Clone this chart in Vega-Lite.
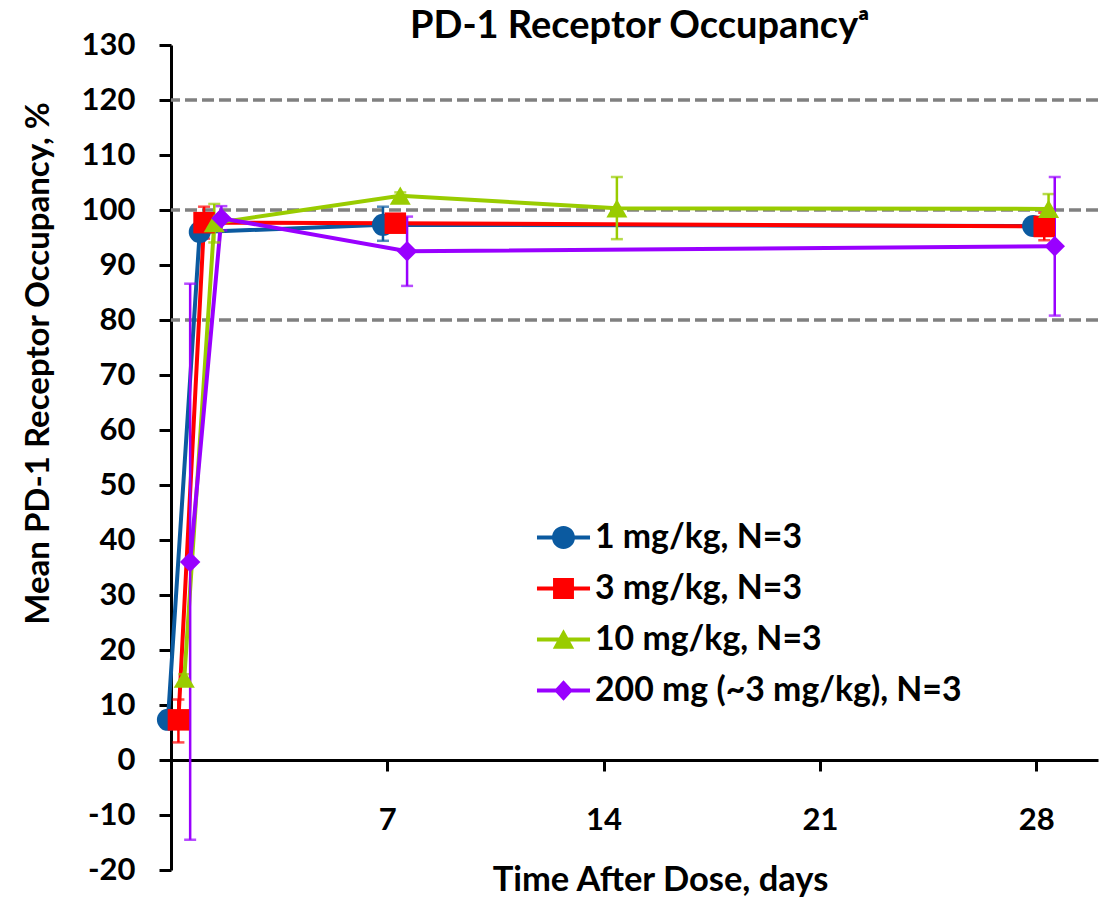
{
  "$schema": "https://vega.github.io/schema/vega-lite/v6.json",
  "width": 927,
  "height": 825,
  "autosize": "none",
  "padding": {"left": 171, "top": 45, "right": 1, "bottom": 27},
  "background": "white",
  "title": {"text": "PD-1 Receptor Occupancyᵃ", "font": "Lato", "fontSize": 38, "fontWeight": "bold", "color": "black", "anchor": "middle", "baseline": "alphabetic", "offset": 0, "dy": 47, "dx": 5},
  "config": {
    "view": {"stroke": null},
    "axis": {"domainColor": "black", "domainWidth": 3, "tickColor": "black", "tickWidth": 3, "labelFont": "Lato", "labelFontWeight": "bold", "labelFontSize": 31, "labelColor": "black", "titleFont": "Lato", "titleFontWeight": "bold", "titleFontSize": 31, "titleColor": "black", "grid": false}
  },
  "datasets": {
    "ro": [
      {"series": "1 mg/kg, N=3", "day": -0.1, "value": 7.3, "lo": 5.8, "hi": 8.8},
      {"series": "1 mg/kg, N=3", "day": 0.93, "value": 96.0, "lo": 94.5, "hi": 97.5},
      {"series": "1 mg/kg, N=3", "day": 6.86, "value": 97.3, "lo": 94.4, "hi": 100.6},
      {"series": "1 mg/kg, N=3", "day": 27.9, "value": 97.1, "lo": 96.0, "hi": 98.2},
      {"series": "3 mg/kg, N=3", "day": 0.24, "value": 7.3, "lo": 3.2, "hi": 11.0},
      {"series": "3 mg/kg, N=3", "day": 1.07, "value": 97.7, "lo": 94.8, "hi": 100.6},
      {"series": "3 mg/kg, N=3", "day": 7.26, "value": 97.6, "lo": 96.6, "hi": 98.6},
      {"series": "3 mg/kg, N=3", "day": 28.26, "value": 97.0, "lo": 94.5, "hi": 99.5},
      {"series": "10 mg/kg, N=3", "day": 0.43, "value": 14.8, "lo": 14.0, "hi": 15.6},
      {"series": "10 mg/kg, N=3", "day": 1.4, "value": 97.6, "lo": 94.1, "hi": 101.1},
      {"series": "10 mg/kg, N=3", "day": 7.42, "value": 102.6, "lo": 102.0, "hi": 103.2},
      {"series": "10 mg/kg, N=3", "day": 14.43, "value": 100.3, "lo": 94.7, "hi": 106.0},
      {"series": "10 mg/kg, N=3", "day": 28.4, "value": 100.2, "lo": 97.5, "hi": 102.9},
      {"series": "200 mg (~3 mg/kg), N=3", "day": 0.62, "value": 36.0, "lo": -14.5, "hi": 86.6},
      {"series": "200 mg (~3 mg/kg), N=3", "day": 1.63, "value": 98.5, "lo": 96.3, "hi": 100.7},
      {"series": "200 mg (~3 mg/kg), N=3", "day": 7.64, "value": 92.5, "lo": 86.2, "hi": 98.8},
      {"series": "200 mg (~3 mg/kg), N=3", "day": 28.6, "value": 93.4, "lo": 80.8, "hi": 106.0}
    ],
    "refs": [{"ref": 80}, {"ref": 100}, {"ref": 120}]
  },
  "layer": [
    {
      "data": {"name": "refs"},
      "mark": {"type": "rule", "color": "#808080", "strokeWidth": 3.3, "strokeDash": [12, 5]},
      "encoding": {
        "y": {"field": "ref", "type": "quantitative", "title": "Mean PD-1 Receptor Occupancy, %", "scale": {"domain": [-20, 130], "nice": false, "zero": false},
          "axis": {"values": [-20, -10, 0, 10, 20, 30, 40, 50, 60, 70, 80, 90, 100, 110, 120, 130], "labelExpr": "'' + datum.value", "tickSize": 12, "labelPadding": 24,
            "titleFontSize": 33, "titleAngle": 270, "titleX": -133, "titleY": 318, "titleAlign": "center", "titleBaseline": "middle"}}
      }
    },
    {
      "data": {"name": "ro"},
      "mark": {"type": "line", "strokeWidth": 4},
      "encoding": {
        "x": {"field": "day", "type": "quantitative", "title": "Time After Dose, days", "scale": {"domain": [0, 30], "nice": false, "zero": false},
          "axis": {"values": [7, 14, 21, 28], "offset": -110, "tickSize": 11, "labelPadding": 34, "titleFontSize": 34.5, "titlePadding": 28, "titleX": 489, "titleAlign": "center"}},
        "y": {"field": "value", "type": "quantitative", "title": "Mean PD-1 Receptor Occupancy, %"},
        "color": {"field": "series", "type": "nominal", "scale": {"domain": ["1 mg/kg, N=3", "3 mg/kg, N=3", "10 mg/kg, N=3", "200 mg (~3 mg/kg), N=3"], "range": ["#0B5AA0", "#FF0000", "#99CC00", "#9900FF"]}, "legend": null},
        "order": {"field": "day", "type": "quantitative"}
      }
    },
    {
      "data": {"name": "ro"},
      "mark": {"type": "errorbar", "ticks": {"size": 12, "thickness": 2.5}, "rule": {"strokeWidth": 2.5}},
      "encoding": {
        "x": {"field": "day", "type": "quantitative", "title": "Time After Dose, days"},
        "y": {"field": "lo", "type": "quantitative", "title": "Mean PD-1 Receptor Occupancy, %"},
        "y2": {"field": "hi"},
        "color": {"field": "series", "type": "nominal", "scale": {"domain": ["1 mg/kg, N=3", "3 mg/kg, N=3", "10 mg/kg, N=3", "200 mg (~3 mg/kg), N=3"], "range": ["#0B5AA0", "#FF0000", "#99CC00", "#9900FF"]}, "legend": null}
      }
    },
    {
      "data": {"name": "ro"},
      "mark": {"type": "point", "filled": true, "opacity": 1},
      "encoding": {
        "x": {"field": "day", "type": "quantitative", "title": "Time After Dose, days"},
        "y": {"field": "value", "type": "quantitative", "title": "Mean PD-1 Receptor Occupancy, %"},
        "color": {"field": "series", "type": "nominal", "scale": {"domain": ["1 mg/kg, N=3", "3 mg/kg, N=3", "10 mg/kg, N=3", "200 mg (~3 mg/kg), N=3"], "range": ["#0B5AA0", "#FF0000", "#99CC00", "#9900FF"]}, "legend": null},
        "shape": {"field": "series", "type": "nominal", "scale": {"domain": ["1 mg/kg, N=3", "3 mg/kg, N=3", "10 mg/kg, N=3", "200 mg (~3 mg/kg), N=3"], "range": ["circle", "square", "triangle-up", "diamond"]}, "legend": null},
        "size": {"field": "series", "type": "nominal", "scale": {"domain": ["1 mg/kg, N=3", "3 mg/kg, N=3", "10 mg/kg, N=3", "200 mg (~3 mg/kg), N=3"], "range": [484, 420, 576, 500]}, "legend": null}
      }
    },
    {
      "data": {"name": "ro"},
      "transform": [{"filter": "datum.day > 1000"}],
      "mark": {"type": "point", "filled": true, "opacity": 1},
      "encoding": {
        "x": {"field": "day", "type": "quantitative", "title": "Time After Dose, days"},
        "y": {"field": "value", "type": "quantitative", "title": "Mean PD-1 Receptor Occupancy, %"},
        "color": {"field": "series", "type": "nominal", "scale": {"domain": ["1 mg/kg, N=3", "3 mg/kg, N=3", "10 mg/kg, N=3", "200 mg (~3 mg/kg), N=3"], "range": ["#0B5AA0", "#FF0000", "#99CC00", "#9900FF"]},
          "legend": {"title": null, "orient": "none", "legendX": 367, "legendY": 467, "symbolSize": 2601, "symbolStrokeWidth": 0, "rowPadding": 8, "labelOffset": 6, "labelFont": "Lato", "labelFontWeight": "bold", "labelFontSize": 33.8, "labelColor": "black", "labelLimit": 450, "padding": 0}},
        "shape": {"field": "series", "type": "nominal",
          "scale": {"domain": ["1 mg/kg, N=3", "3 mg/kg, N=3", "10 mg/kg, N=3", "200 mg (~3 mg/kg), N=3"],
            "range": [
              "M-1.04,-0.08L1.04,-0.08L1.04,0.08L-1.04,0.08ZM0.45,0A0.45,0.45,0,1,1,-0.45,0A0.45,0.45,0,1,1,0.45,0Z",
              "M-1.04,-0.08L1.04,-0.08L1.04,0.08L-1.04,0.08ZM-0.41,-0.41L0.41,-0.41L0.41,0.41L-0.41,0.41Z",
              "M-1.04,-0.08L1.04,-0.08L1.04,0.08L-1.04,0.08ZM0,-0.4L0.42,0.36L-0.42,0.36Z",
              "M-1.04,-0.08L1.04,-0.08L1.04,0.08L-1.04,0.08ZM0,-0.4L0.37,0L0,0.4L-0.37,0Z"
            ]},
          "legend": {"title": null, "orient": "none", "legendX": 367, "legendY": 467, "symbolSize": 2601, "symbolStrokeWidth": 0, "rowPadding": 8, "labelOffset": 6, "labelFont": "Lato", "labelFontWeight": "bold", "labelFontSize": 33.8, "labelColor": "black", "labelLimit": 450, "padding": 0}}
      }
    }
  ],
  "resolve": {"scale": {"shape": "independent", "size": "independent", "color": "independent"}}
}
